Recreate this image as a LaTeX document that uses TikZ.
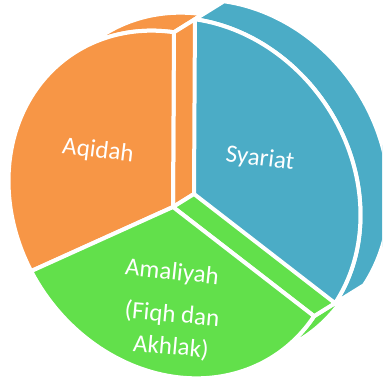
\documentclass[tikz,border=0pt]{standalone}
\usepackage{fontspec}
\setmainfont{Carlito}
\usetikzlibrary{calc}
\definecolor{pieorange}{HTML}{F79646}
\definecolor{pieblue}{HTML}{4BACC6}
\definecolor{piegreen}{HTML}{62E04B}
\begin{document}
\begin{tikzpicture}[x=1pt,y=-1pt,
  declare function={
    ex(\s)=174+181.5*cos(\s)*0.574-157*sin(\s)*0.819;
    ey(\s)=204.5+181.5*cos(\s)*0.819+157*sin(\s)*0.574;
  },
  face/.style={line width=4pt,draw=white,line join=round},
  orangeface/.style={face,fill=pieorange},
  blueface/.style={face,fill=pieblue},
  greenface/.style={face,fill=piegreen},
  lbl/.style={text=white,font=\fontsize{25}{27}\selectfont,inner sep=0pt}]
\useasboundingbox (0,0) rectangle (382,382);
\clip (0,0) rectangle (382,382);
\fill[white] (0,0) rectangle (382,382);

% rim points of the front face and depth offsets
\coordinate (V) at (173,207);
\coordinate (T) at ({ex(219)},{ey(219)});
\coordinate (G) at ({ex(-18.8)},{ey(-18.8)});
\coordinate (Vd) at ($(V)+(29,-18)$);
\coordinate (Td) at ($(T)+(29,-18)$);
\coordinate (Gd) at ($(G)+(29,-18)$);
\coordinate (Ve) at ($(V)+(21,-13)$);

% rear surfaces of the orange and green slices
\filldraw[orangeface] plot[domain=182.76:219,samples=40] ({ex(\x)},{ey(\x)})
  -- plot[domain=219:182.76,samples=40] ({ex(\x)+29},{ey(\x)-18}) -- cycle;
\filldraw[orangeface] (V) -- (T) -- (Td) -- (Vd) -- cycle;
\filldraw[greenface] plot[domain=-18.8:2.76,samples=30] ({ex(\x)},{ey(\x)})
  -- plot[domain=2.76:-18.8,samples=30] ({ex(\x)+29},{ey(\x)-18}) -- cycle;
\filldraw[greenface] (V) -- (G) -- (Gd) -- (Vd) -- cycle;

% front faces
\filldraw[orangeface] (V) -- plot[domain=98.7:219,samples=90] ({ex(\x)},{ey(\x)}) -- cycle;
\filldraw[greenface] (V) -- plot[domain=-18.8:98.7,samples=90] ({ex(\x)},{ey(\x)}) -- cycle;

% exploded blue slice
\filldraw[blueface] plot[domain=219:341.2,samples=90] ({ex(\x)+21},{ey(\x)-13})
  -- plot[domain=341.2:219,samples=90] ({ex(\x)+50},{ey(\x)-31}) -- cycle;
\filldraw[blueface] (Ve) -- plot[domain=219:341.2,samples=90] ({ex(\x)+21},{ey(\x)-13}) -- cycle;

% labels
\node[lbl,rotate=-7] (aq) at (98,151) {Aqidah};
\node[lbl,rotate=-7] (sy) at (260,159) {Syariat};
\node[lbl,rotate=-6] (am) at (172,273) {Amaliyah};
\node[lbl,rotate=-5] (fq) at (172,315) {(Fiqh dan};
\node[lbl,rotate=-5] (ak) at (171,347) {Akhlak)};
\end{tikzpicture}
\end{document}
